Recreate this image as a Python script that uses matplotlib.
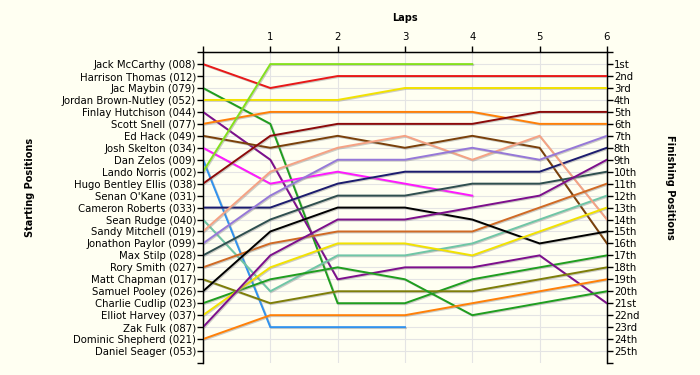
import matplotlib
matplotlib.use("Agg")
import matplotlib.pyplot as plt
import matplotlib.patheffects as pe

# starting grid (top to bottom), position 1..25
drivers = [
    "Jack McCarthy (008)", "Harrison Thomas (012)", "Jac Maybin (079)",
    "Jordan Brown-Nutley (052)", "Finlay Hutchison (044)", "Scott Snell (077)",
    "Ed Hack (049)", "Josh Skelton (034)", "Dan Zelos (009)", "Lando Norris (002)",
    "Hugo Bentley Ellis (038)", "Senan O'Kane (031)", "Cameron Roberts (033)",
    "Sean Rudge (040)", "Sandy Mitchell (019)", "Jonathon Paylor (099)",
    "Max Stilp (028)", "Rory Smith (027)", "Matt Chapman (017)",
    "Samuel Pooley (026)", "Charlie Cudlip (023)", "Elliot Harvey (037)",
    "Zak Fulk (087)", "Dominic Shepherd (021)", "Daniel Seager (053)",
]

finish_labels = ["1st", "2nd", "3rd", "4th", "5th", "6th", "7th", "8th", "9th",
                 "10th", "11th", "12th", "13th", "14th", "15th", "16th", "17th",
                 "18th", "19th", "20th", "21st", "22nd", "23rd", "24th", "25th"]

laps = [0, 1, 2, 3, 4, 5, 6]

# position per lap (lap 0 = grid)
pos_mccarthy = [1, 3, 2, 2, 2, 2, 2]
pos_maybin = [3, 6, 21, 21, 19, 18, 17]
pos_brown_nutley = [4, 4, 4, 3, 3, 3, 3]
pos_hutchison = [5, 9, 19, 18, 18, 17, 21]
pos_snell = [6, 5, 5, 5, 5, 6, 6]
pos_hack = [7, 8, 7, 8, 7, 8, 16]
pos_skelton = [8, 11, 10, 11, 12]
pos_zelos = [9, 23, 23, 23]
pos_norris = [10, 1, 1, 1, 1]
pos_bentley = [11, 7, 6, 6, 6, 5, 5]
pos_roberts = [13, 13, 11, 10, 10, 10, 8]
pos_rudge = [14, 20, 17, 17, 16, 14, 12]
pos_mitchell = [15, 10, 8, 7, 9, 7, 14]
pos_paylor = [16, 12, 9, 9, 8, 9, 7]
pos_stilp = [17, 14, 12, 12, 11, 11, 10]
pos_smith = [18, 16, 15, 15, 15, 13, 11]
pos_chapman = [19, 21, 20, 20, 20, 19, 18]
pos_pooley = [20, 15, 13, 13, 14, 16, 15]
pos_cudlip = [21, 19, 18, 19, 22, 21, 20]
pos_harvey = [22, 18, 16, 16, 17, 15, 13]
pos_fulk = [23, 17, 14, 14, 13, 12, 9]
pos_shepherd = [24, 22, 22, 22, 21, 20, 19]

series = [
    (pos_mccarthy, "#e81818"), (pos_maybin, "#1f9e1f"), (pos_brown_nutley, "#f2e200"),
    (pos_hutchison, "#7d0f8c"), (pos_snell, "#ff8008"), (pos_hack, "#7a400a"),
    (pos_skelton, "#ff18ff"), (pos_zelos, "#3092ee"), (pos_norris, "#84e01e"),
    (pos_bentley, "#8c0a0a"), (pos_roberts, "#1c1c6e"), (pos_rudge, "#6fc6a6"),
    (pos_mitchell, "#f5a284"), (pos_paylor, "#9678d8"), (pos_stilp, "#2f4f4f"),
    (pos_smith, "#d06a24"), (pos_chapman, "#7e7e08"), (pos_pooley, "#000000"),
    (pos_cudlip, "#1f9e1f"), (pos_harvey, "#f2e200"), (pos_fulk, "#7d0f8c"),
    (pos_shepherd, "#ff8008"),
]

bg = "#fffff2"
fig = plt.figure(figsize=(7, 3.75), dpi=100, facecolor=bg)
ax = fig.add_axes([0.29, 0.032, 0.577, 0.829])
ax.set_facecolor(bg)

shadow = [pe.SimpleLineShadow(offset=(0.7, -0.7), shadow_color="#909090", alpha=0.45), pe.Normal()]
for vals, col in series:
    ax.plot(laps[:len(vals)], vals, color=col, lw=1.4, path_effects=shadow,
            solid_joinstyle="miter", zorder=3)

ax.set_xlim(0, 6)
ax.set_ylim(26, 0)

# grid lines
for p in range(1, 26):
    ax.axhline(p, color="#e4e4e4", lw=0.8, zorder=1)
for l in laps[1:]:
    ax.axvline(l, color="#e4e4e4", lw=0.8, zorder=1)

ax.spines["bottom"].set_visible(False)
for s in ["top", "left", "right"]:
    ax.spines[s].set_linewidth(1.0)

ax.xaxis.tick_top()
ax.set_xticks(laps)
ax.set_xticklabels([""] + [str(l) for l in laps[1:]])
ax.tick_params(axis="x", length=4, width=1, labelsize=7.3, pad=3)

ticks = list(range(0, 27))
ax.set_yticks(ticks)
ax.set_yticklabels([""] + drivers + [""])
ax.tick_params(axis="y", length=4, width=1, labelsize=7.3, pad=1, colors="black")

ax2 = ax.twinx()
ax2.set_ylim(26, 0)
ax2.set_yticks(ticks)
ax2.set_yticklabels([""] + finish_labels + [""])
ax2.tick_params(axis="y", length=4, width=1, labelsize=7.3, pad=1)
ax2.spines["bottom"].set_visible(False)

fig.text(0.579, 0.952, "Laps", ha="center", va="center", fontsize=7, fontweight="bold")
fig.text(0.043, 0.5, "Starting Positions", ha="center", va="center", rotation=90,
         fontsize=7, fontweight="bold")
fig.text(0.957, 0.5, "Finishing Positions", ha="center", va="center", rotation=-90,
         fontsize=7, fontweight="bold")

fig.savefig("out.png", dpi=100, facecolor=bg)
